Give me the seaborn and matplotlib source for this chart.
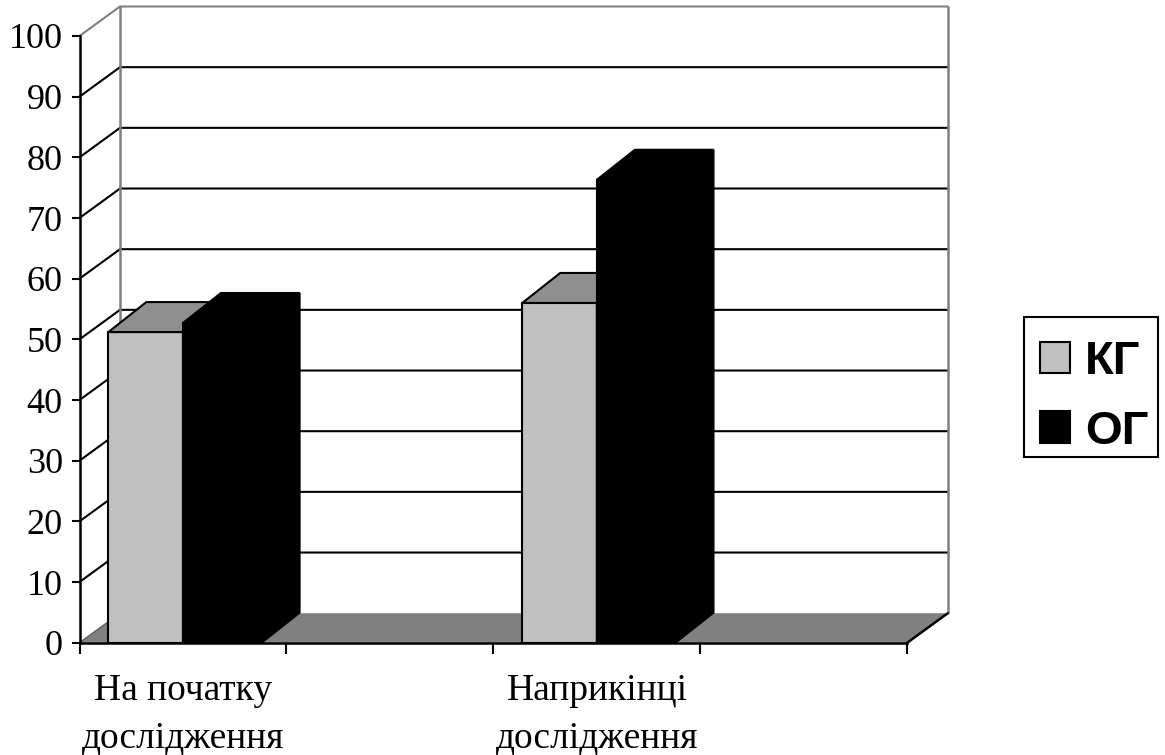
"""KG / OG comparison, drawn in the old spreadsheet 3D column look."""

import matplotlib.pyplot as plt
import pandas as pd
import seaborn as sns
from matplotlib.patches import Polygon, Rectangle

# Data
categories = ["На початку\nдослідження", " ", "Наприкінці\nдослідження", "  "]
measured = ["На початку\nдослідження", "Наприкінці\nдослідження"]
kg_values = [51.2, 56.0]
og_values = [52.7, 76.3]
group_names = ["КГ", "ОГ"]
y_ticks = [0, 10, 20, 30, 40, 50, 60, 70, 80, 90, 100]

# Layout in pixels of the target image
FIG_W, FIG_H = 1165, 755
AX_LEFT, AX_RIGHT = 79.5, 907.3
AX_TOP, AX_BOTTOM = 36.0, 642.7
WALL_DX, WALL_DY = 40.5, 29.5
BAR_DX, BAR_DY = 38.0, 30.0

sns.set_style(
    "white",
    rc={
        "text.color": "black",
        "xtick.color": "black",
        "ytick.color": "black",
    },
)
plt.rcParams["font.family"] = ["Liberation Serif", "DejaVu Serif"]

df = pd.DataFrame(
    {
        "stage": measured * 2,
        "group": [group_names[0]] * 2 + [group_names[1]] * 2,
        "value": kg_values + og_values,
    }
)

fig = plt.figure(figsize=(FIG_W / 100, FIG_H / 100), dpi=100)
ax = fig.add_axes(
    [
        AX_LEFT / FIG_W,
        1 - AX_BOTTOM / FIG_H,
        (AX_RIGHT - AX_LEFT) / FIG_W,
        (AX_BOTTOM - AX_TOP) / FIG_H,
    ]
)
ax.patch.set_alpha(0)

sns.barplot(
    data=df,
    x="stage",
    y="value",
    hue="group",
    order=categories,
    hue_order=group_names,
    palette=["#c0c0c0", "#000000"],
    saturation=1,
    width=0.75,
    gap=0,
    edgecolor="black",
    linewidth=1.5,
    ax=ax,
)
ax.set_xlim(-0.5, len(categories) - 0.5)
ax.set_ylim(0, 100)
ax.set_xlabel("")
ax.set_ylabel("")

# pixel sizes converted to data units
px_x = (len(categories)) / (AX_RIGHT - AX_LEFT)
px_y = 100 / (AX_BOTTOM - AX_TOP)
wall_dx, wall_dy = WALL_DX * px_x, WALL_DY * px_y
bar_dx, bar_dy = BAR_DX * px_x, BAR_DY * px_y
x0, x1 = ax.get_xlim()

# floor and back wall
ax.add_patch(
    Polygon(
        [(x0, 0), (x1, 0), (x1 + wall_dx, wall_dy), (x0 + wall_dx, wall_dy)],
        facecolor="#808080",
        edgecolor="none",
        clip_on=False,
        zorder=0.2,
    )
)
for tick in y_ticks[1:]:
    color = "#808080" if tick == 100 else "black"
    ax.plot(
        [x0, x0 + wall_dx, x1 + wall_dx],
        [tick, tick + wall_dy, tick + wall_dy],
        color=color,
        lw=1.5,
        clip_on=False,
        zorder=0.4,
        solid_joinstyle="miter",
    )
for wall_x in [x0 + wall_dx, x1 + wall_dx]:
    ax.plot(
        [wall_x, wall_x],
        [wall_dy, 100 + wall_dy],
        color="#808080",
        lw=1.8,
        clip_on=False,
        zorder=0.5,
    )
ax.plot(
    [x0, x0 + wall_dx],
    [0, wall_dy],
    color="#606060",
    lw=1,
    clip_on=False,
    zorder=0.5,
)
ax.plot(
    [x1, x1 + wall_dx],
    [0, wall_dy],
    color="black",
    lw=1.8,
    clip_on=False,
    zorder=0.5,
)

# KG columns are a bit narrower than OG in the original
for bar in ax.containers[0]:
    bar.set_x(bar.get_x() + 3 * px_x)
    bar.set_width(bar.get_width() - 3 * px_x)
for bar in ax.containers[1]:
    bar.set_width(bar.get_width() + 1 * px_x)

# extrude each column: top and side faces
faces = [("#8f8f8f", "#808080", "black"), ("#000000", "#000000", "black")]
for level, (container, colors) in enumerate(zip(ax.containers, faces)):
    top_color, side_color, edge = colors
    for bar in container:
        left, right = bar.get_x(), bar.get_x() + bar.get_width()
        height = bar.get_height()
        bar.set_zorder(2 + level)
        bar.set_joinstyle("miter")
        ax.add_patch(
            Polygon(
                [
                    (left, height),
                    (right, height),
                    (right + bar_dx, height + bar_dy),
                    (left + bar_dx, height + bar_dy),
                ],
                facecolor=top_color,
                edgecolor=edge,
                lw=1.5,
                joinstyle="miter",
                clip_on=False,
                zorder=2 + level,
            )
        )
        ax.add_patch(
            Polygon(
                [
                    (right, 0),
                    (right + bar_dx, bar_dy),
                    (right + bar_dx, height + bar_dy),
                    (right, height),
                ],
                facecolor=side_color,
                edgecolor=edge,
                lw=1.5,
                joinstyle="miter",
                clip_on=False,
                zorder=2 + level,
            )
        )

# axes: ticks on category boundaries, labels in between
sns.despine(ax=ax, top=True, right=True)
for side in ["left", "bottom"]:
    ax.spines[side].set_color("black")
    ax.spines[side].set_linewidth(1.8)
    ax.spines[side].set_zorder(5)

ax.set_yticks(y_ticks)
ax.tick_params(
    axis="y", left=True, length=6, width=1.5, color="black", labelsize=26, pad=6
)
boundaries = [x0 + i for i in range(len(categories) + 1)]
ax.set_xticks(boundaries)
ax.set_xticklabels([""] * len(boundaries))
ax.tick_params(axis="x", which="major", bottom=True, length=8, width=1.5, color="black")
ax.set_xticks(range(len(categories)), minor=True)
ax.set_xticklabels(
    [c.strip() for c in categories], minor=True, fontsize=27, linespacing=1.5
)
ax.tick_params(axis="x", which="minor", bottom=False, length=0, pad=22)

# legend on the right; its frame is a separate box so the rows can sit freely
fig.add_artist(
    Rectangle(
        (1024 / FIG_W, 1 - 457.3 / FIG_H),
        134 / FIG_W,
        140.6 / FIG_H,
        transform=fig.transFigure,
        facecolor="white",
        edgecolor="black",
        lw=1.5,
        zorder=-1,
    )
)
sns.move_legend(
    ax,
    "upper left",
    bbox_to_anchor=(1040 / FIG_W, 1 - 340 / FIG_H),
    bbox_transform=fig.transFigure,
    title=None,
    frameon=False,
    borderaxespad=0,
    borderpad=0,
    handlelength=0.635,
    handleheight=0.66,
    handletextpad=0.32,
    labelspacing=0.55,
    prop={"family": "Liberation Sans", "weight": "bold", "size": 34},
)
ax.get_legend().set_zorder(10)

fig.savefig("out.png", dpi=100)
